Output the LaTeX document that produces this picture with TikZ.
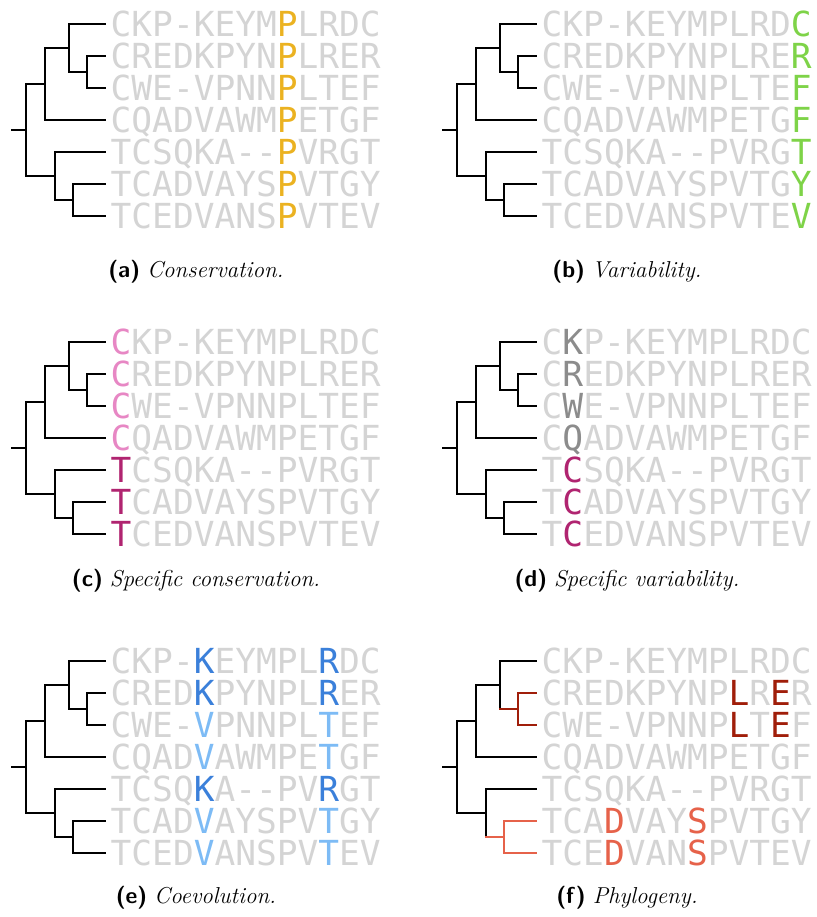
\documentclass[tikz,border=0pt]{standalone}
\usepackage{fontspec}
\newfontfamily\seqfont[Ligatures=TeXOff]{DejaVu Sans Mono}

\definecolor{seqgray}{RGB}{212,212,212}
\definecolor{consP}{RGB}{235,178,33}
\definecolor{varG}{RGB}{126,211,72}
\definecolor{specLight}{RGB}{231,135,196}
\definecolor{specDark}{RGB}{176,36,112}
\definecolor{midgray}{RGB}{140,140,140}
\definecolor{coevDark}{RGB}{59,128,218}
\definecolor{coevLight}{RGB}{125,187,245}
\definecolor{phyDark}{RGB}{160,30,10}
\definecolor{phyLight}{RGB}{230,98,74}

\tikzset{
  branch/.style={line width=1.7pt, line cap=rect, black},
  cladeN/.style={},
  cladeM/.style={},
  seq/.style={anchor=base west, inner sep=0pt, text=seqgray,
    font=\seqfont\fontsize{34.5}{34.5}\selectfont},
  captext/.style={anchor=base, inner sep=0pt, font=\fontsize{23}{27}\selectfont},
}

\newcommand\hl[2]{\textcolor{#1}{#2}}

% cladogram of the seven sequences (leaves L1..L7, inner nodes n*, m*)
\newcommand\phylotree{%
  \coordinate (L1) at (105,24);
  \coordinate (L2) at (105,56);
  \coordinate (L3) at (105,88);
  \coordinate (L4) at (105,120);
  \coordinate (L5) at (105,152);
  \coordinate (L6) at (105,184);
  \coordinate (L7) at (105,216);
  \coordinate (n3) at (87,72);
  \coordinate (n2) at (69,48);
  \coordinate (n1) at (45,84);
  \coordinate (m2) at (73,200);
  \coordinate (m1) at (55,176);
  \coordinate (rt) at (26,130);
  \coordinate (st) at (12,130);
  \draw[branch] (st) -- (rt);
  \draw[branch] (n1 -| rt) -- (m1 -| rt);
  \draw[branch] (n1) -- (n1 -| rt);
  \draw[branch] (m1) -- (m1 -| rt);
  \draw[branch] (n2 -| n1) -- (L4 -| n1);
  \draw[branch] (n2) -- (n2 -| n1);
  \draw[branch] (L4) -- (L4 -| n1);
  \draw[branch] (L1 -| n2) -- (n3 -| n2);
  \draw[branch] (L1) -- (L1 -| n2);
  \draw[branch,cladeN] (L2 -| n3) -- (L3 -| n3);
  \draw[branch,cladeN] (n3) -- (n3 -| n2);
  \draw[branch,cladeN] (L2) -- (L2 -| n3);
  \draw[branch,cladeN] (L3) -- (L3 -| n3);
  \draw[branch] (L5 -| m1) -- (m2 -| m1);
  \draw[branch] (L5) -- (L5 -| m1);
  \draw[branch,cladeM] (L6 -| m2) -- (L7 -| m2);
  \draw[branch,cladeM] (m2) -- (m2 -| m1);
  \draw[branch,cladeM] (L6) -- (L6 -| m2);
  \draw[branch,cladeM] (L7) -- (L7 -| m2);
}

% the aligned sequences, one row per leaf
\newcommand\seqrows[7]{%
  \node[seq] (S1) at (110.5,36.5) {#1};
  \node[seq] (S2) at (110.5,68.5) {#2};
  \node[seq] (S3) at (110.5,100.5) {#3};
  \node[seq] (S4) at (110.5,132.5) {#4};
  \node[seq] (S5) at (110.5,164.5) {#5};
  \node[seq] (S6) at (110.5,196.5) {#6};
  \node[seq] (S7) at (110.5,228.5) {#7};
}

\begin{document}
\begin{tikzpicture}[x=1pt, y=-1pt]
\useasboundingbox (0,0) rectangle (816,917);

% (a) conservation
\begin{scope}[name prefix=a-]
  \phylotree
  \seqrows{CKP-KEYM\hl{consP}{P}LRDC}{CREDKPYN\hl{consP}{P}LRER}{CWE-VPNN\hl{consP}{P}LTEF}{CQADVAWM\hl{consP}{P}ETGF}{TCSQKA--\hl{consP}{P}VRGT}{TCADVAYS\hl{consP}{P}VTGY}{TCEDVANS\hl{consP}{P}VTEV}
  \node[captext] (label) at (196,277) {\textsf{\bfseries (a)}\ \textit{Conservation.}};
\end{scope}

% (b) variability
\begin{scope}[shift={(431,0)}, name prefix=b-]
  \phylotree
  \seqrows{CKP-KEYMPLRD\hl{varG}{C}}{CREDKPYNPLRE\hl{varG}{R}}{CWE-VPNNPLTE\hl{varG}{F}}{CQADVAWMPETG\hl{varG}{F}}{TCSQKA--PVRG\hl{varG}{T}}{TCADVAYSPVTG\hl{varG}{Y}}{TCEDVANSPVTE\hl{varG}{V}}
  \node[captext] (label) at (196,277) {\textsf{\bfseries (b)}\ \textit{Variability.}};
\end{scope}

% (c) specific conservation
\begin{scope}[shift={(0,318)}, name prefix=c-]
  \phylotree
  \seqrows{\hl{specLight}{C}KP-KEYMPLRDC}{\hl{specLight}{C}REDKPYNPLRER}{\hl{specLight}{C}WE-VPNNPLTEF}{\hl{specLight}{C}QADVAWMPETGF}{\hl{specDark}{T}CSQKA--PVRGT}{\hl{specDark}{T}CADVAYSPVTGY}{\hl{specDark}{T}CEDVANSPVTEV}
  \node[captext] (label) at (196,268.5) {\textsf{\bfseries (c)}\ \textit{Specific conservation.}};
\end{scope}

% (d) specific variability
\begin{scope}[shift={(431,318)}, name prefix=d-]
  \phylotree
  \seqrows{C\hl{midgray}{K}P-KEYMPLRDC}{C\hl{midgray}{R}EDKPYNPLRER}{C\hl{midgray}{W}E-VPNNPLTEF}{C\hl{midgray}{Q}ADVAWMPETGF}{T\hl{specDark}{C}SQKA--PVRGT}{T\hl{specDark}{C}ADVAYSPVTGY}{T\hl{specDark}{C}EDVANSPVTEV}
  \node[captext] (label) at (196,268.5) {\textsf{\bfseries (d)}\ \textit{Specific variability.}};
\end{scope}

% (e) coevolution
\begin{scope}[shift={(0,637)}, name prefix=e-]
  \phylotree
  \seqrows{CKP-\hl{coevDark}{K}EYMPL\hl{coevDark}{R}DC}{CRED\hl{coevDark}{K}PYNPL\hl{coevDark}{R}ER}{CWE-\hl{coevLight}{V}PNNPL\hl{coevLight}{T}EF}{CQAD\hl{coevLight}{V}AWMPE\hl{coevLight}{T}GF}{TCSQ\hl{coevDark}{K}A--PV\hl{coevDark}{R}GT}{TCAD\hl{coevLight}{V}AYSPV\hl{coevLight}{T}GY}{TCED\hl{coevLight}{V}ANSPV\hl{coevLight}{T}EV}
  \node[captext] (label) at (196,266) {\textsf{\bfseries (e)}\ \textit{Coevolution.}};
\end{scope}

% (f) phylogeny
\begin{scope}[shift={(431,637)}, name prefix=f-,
    cladeN/.style={phyDark}, cladeM/.style={phyLight}]
  \phylotree
  \seqrows{CKP-KEYMPLRDC}{CREDKPYNP\hl{phyDark}{L}R\hl{phyDark}{E}R}{CWE-VPNNP\hl{phyDark}{L}T\hl{phyDark}{E}F}{CQADVAWMPETGF}{TCSQKA--PVRGT}{TCA\hl{phyLight}{D}VAY\hl{phyLight}{S}PVTGY}{TCE\hl{phyLight}{D}VAN\hl{phyLight}{S}PVTEV}
  \node[captext] (label) at (196,266) {\textsf{\bfseries (f)}\ \textit{Phylogeny.}};
\end{scope}
\end{tikzpicture}
\end{document}
